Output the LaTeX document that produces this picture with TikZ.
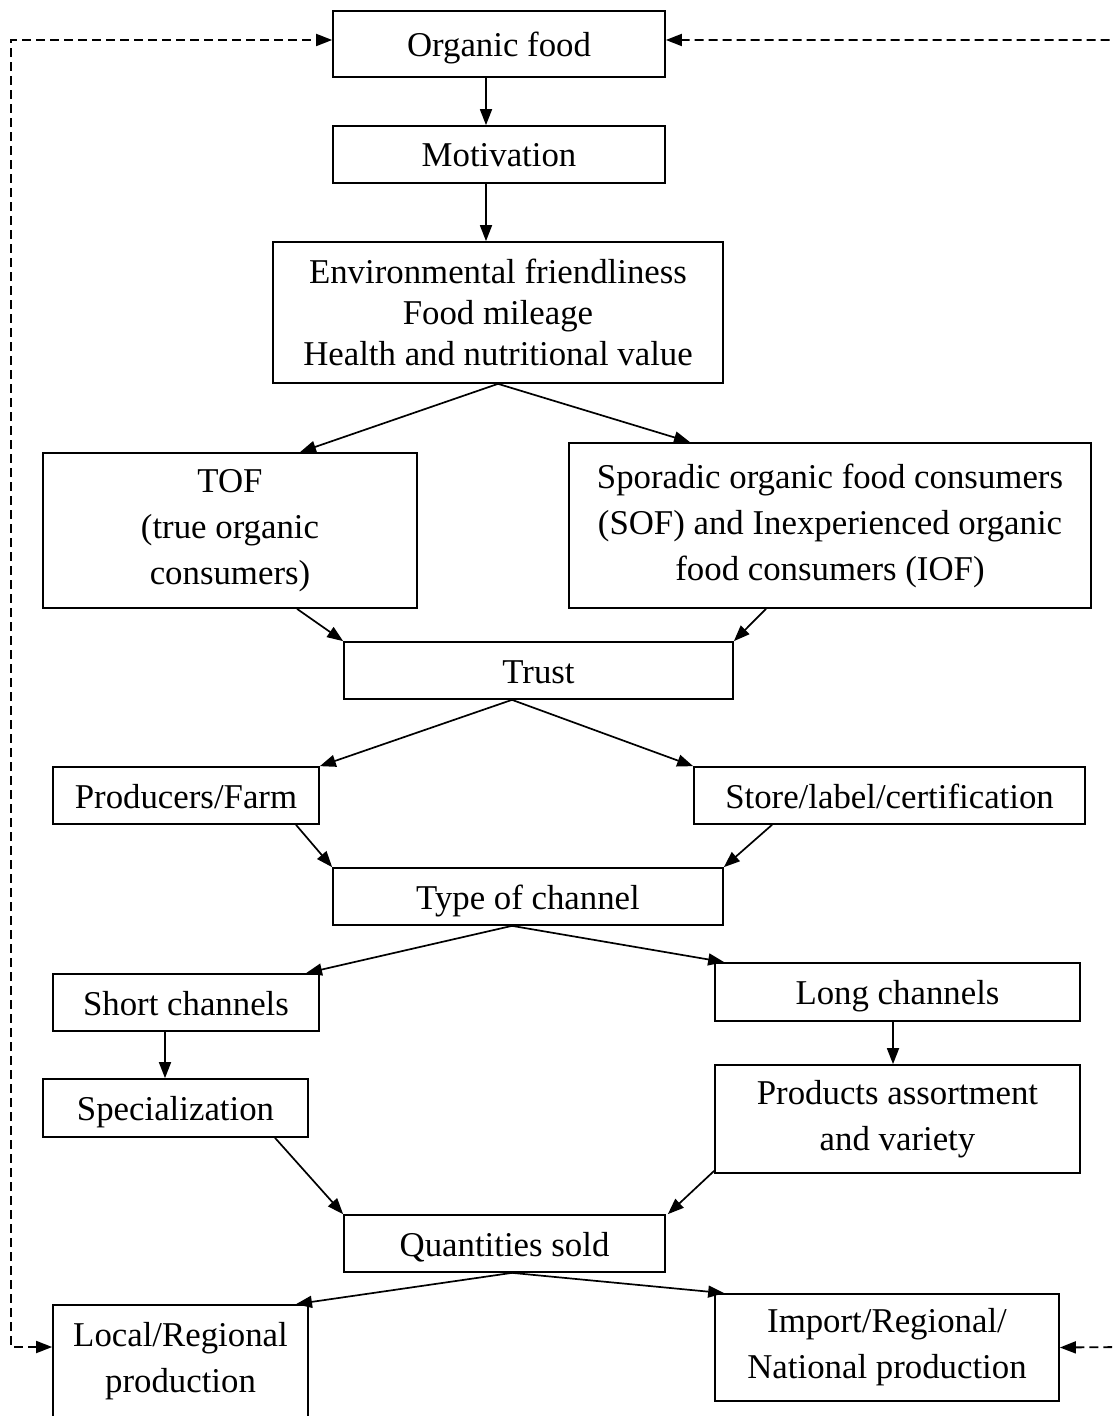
\documentclass[tikz,border=0pt]{standalone}
\usepackage{fontspec}
\setmainfont{Liberation Serif}
\usetikzlibrary{arrows.meta}
\begin{document}
\begin{tikzpicture}[x=0.5pt,y=-0.5pt,
  box/.style={draw, line width=0.85pt, rectangle, align=center, inner sep=0pt,
    font=\fontsize{17.4}{23}\selectfont},
  one/.style={text height=12.5pt, text depth=0pt},
  arr/.style={line width=0.85pt, -{Triangle[length=8pt,width=6pt]}},
  dashline/.style={line width=0.9pt, dash pattern=on 4.5pt off 2.5pt,
    {Triangle[length=8pt,width=6pt]}-{Triangle[length=8pt,width=6pt]}}]
\useasboundingbox (0,0) rectangle (1112,1416);
\clip (0,0) rectangle (1112,1416);
\node[box, one, minimum width=166pt, minimum height=33pt] (org) at (499,44) {Organic food};
\node[box, one, minimum width=166pt, minimum height=28.5pt] (mot) at (499,154.5) {Motivation};
\node[box, minimum width=225pt, minimum height=70.5pt, font=\fontsize{17.4}{20.5}\selectfont] (env) at (498,312.5) {Environmental friendliness\\Food mileage\\Health and nutritional value};
\node[box, minimum width=187pt, minimum height=77.5pt] (tof) at (230,530.5) {TOF\\(true organic\\consumers)};
\node[box, minimum width=261pt, minimum height=82.5pt] (spo) at (830,525.5) {Sporadic organic food consumers\\(SOF) and Inexperienced organic\\food consumers (IOF)};
\node[box, one, minimum width=194.5pt, minimum height=28.5pt] (trust) at (538.5,670.5) {Trust};
\node[box, one, minimum width=133pt, minimum height=28.5pt] (prod) at (186,795.5) {Producers/Farm};
\node[box, one, minimum width=195.5pt, minimum height=28.5pt] (store) at (889.5,795.5) {Store/label/certification};
\node[box, one, minimum width=195pt, minimum height=28.5pt] (type) at (528,896.5) {Type of channel};
\node[box, one, minimum width=133pt, minimum height=28.5pt] (short) at (186,1002.5) {Short channels};
\node[box, one, minimum width=182.5pt, minimum height=29pt] (long) at (897.5,992) {Long channels};
\node[box, one, minimum width=132.5pt, minimum height=29pt] (spec) at (175.5,1108) {Specialization};
\node[box, minimum width=182.5pt, minimum height=54pt] (prodas) at (897.5,1119) {Products assortment\\and variety};
\node[box, one, minimum width=160.5pt, minimum height=28.5pt] (qty) at (504.5,1243.5) {Quantities sold};
\node[box, minimum width=127.5pt, minimum height=56.5pt] (local) at (180.5,1361.5) {Local/Regional\\production};
\node[box, minimum width=172pt, minimum height=53.5pt] (import) at (887,1347.5) {Import/Regional/\\National production};
% solid arrows
\draw[arr] ([xshift=-6.5pt]org.south) -- ([xshift=-6.5pt]mot.north);
\draw[arr] ([xshift=-6.5pt]mot.south) -- ([xshift=-6pt]env.north);
\draw[arr] (env.south) -- ([xshift=35pt]tof.north);
\draw[arr] (env.south) -- ([xshift=-70pt]spo.north);
\draw[arr] ([xshift=33.5pt]tof.south) -- (trust.north west);
\draw[arr] ([xshift=-32pt]spo.south) -- (trust.north east);
\draw[arr] ([xshift=-13.25pt]trust.south) -- (prod.north east);
\draw[arr] ([xshift=-13.25pt]trust.south) -- (store.north west);
\draw[arr] ([xshift=55pt]prod.south) -- (type.north west);
\draw[arr] ([xshift=-58.75pt]store.south) -- (type.north east);
\draw[arr] ([xshift=-8pt]type.south) -- ([xshift=60pt]short.north);
\draw[arr] ([xshift=-8pt]type.south) -- ([xshift=5pt]long.north west);
\draw[arr] ([xshift=-10.5pt]short.south) coordinate (s1) -- (s1 |- spec.north);
\draw[arr] ([xshift=-2.25pt]long.south) coordinate (l1) -- (l1 |- prodas.north);
\draw[arr] ([xshift=49.75pt]spec.south) -- (qty.north west);
\draw[arr] ([yshift=1.5pt]prodas.south west) -- ([xshift=1pt]qty.north east);
\draw[arr] ([xshift=3.75pt]qty.south) -- ([xshift=57.75pt]local.north);
\draw[arr] ([xshift=3.75pt]qty.south) -- ([xshift=5pt]import.north west);
% dashed feedback
\coordinate (ltop) at (11,40);
\coordinate (lbot) at (11,1347);
\coordinate (rtop) at (1125,40);
\coordinate (rbot) at (1125,1347);
\draw[dashline] ([yshift=7.25pt]local.west) -- (lbot) -- (ltop) -- ([yshift=2pt]org.west);
\draw[dashline] (import.east) -- (rbot) -- (rtop) -- ([yshift=2pt]org.east);
\end{tikzpicture}
\end{document}
